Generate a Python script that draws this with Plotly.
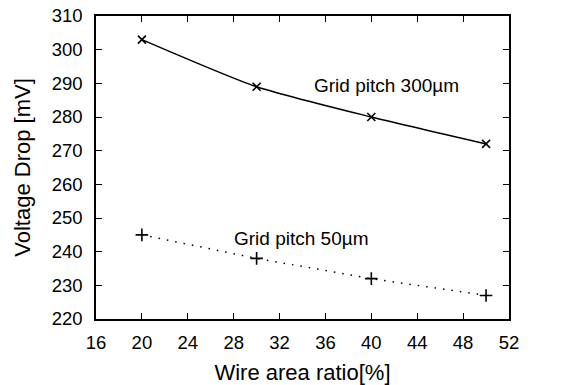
import plotly.graph_objects as go

ratio = [20, 30, 40, 50]
pitch300 = [303, 289, 280, 272]
pitch50 = [245, 238, 232, 227]
xticks = [16, 20, 24, 28, 32, 36, 40, 44, 48, 52]
yticks = [220, 230, 240, 250, 260, 270, 280, 290, 300, 310]

FONT = "Liberation Sans"
fig = go.Figure()
fig.add_trace(go.Scatter(x=ratio, y=pitch300, mode="lines+markers",
                         line=dict(color="black", width=1.5, shape="spline", smoothing=0.6),
                         marker=dict(symbol="x-thin", size=8, line=dict(color="black", width=1.6)),
                         showlegend=False))
fig.add_trace(go.Scatter(x=ratio, y=pitch50, mode="lines+markers",
                         line=dict(color="black", width=1.5, dash="1.5px,7px"),
                         marker=dict(symbol="cross-thin", size=9, line=dict(color="black", width=1.6)),
                         showlegend=False))
fig.add_annotation(x=41.3, y=289.5, text="Grid pitch 300µm", showarrow=False,
                   font=dict(size=19, color="black", family=FONT))
fig.add_annotation(x=33.9, y=244, text="Grid pitch 50µm", showarrow=False,
                   font=dict(size=19, color="black", family=FONT))

axis_common = dict(showgrid=False, zeroline=False, showline=True, linecolor="black", linewidth=1.5,
                   mirror="ticks", ticks="inside", ticklen=6, tickcolor="black", tickwidth=1,
                   automargin=False,
                   tickfont=dict(size=18.5, color="black", family=FONT))
fig.update_xaxes(range=[16, 52], tickvals=xticks, ticklabelstandoff=6,
                 title=dict(text="Wire area ratio[%]", font=dict(size=22, color="black", family=FONT)),
                 **axis_common)
fig.update_yaxes(range=[220, 310], tickvals=yticks, ticklabelstandoff=8,
                 title=dict(text="Voltage Drop [mV]", font=dict(size=22, color="black", family=FONT)),
                 **axis_common)
fig.update_layout(width=564, height=385, margin=dict(l=96, r=55, t=16, b=66, autoexpand=False),
                  plot_bgcolor="white", paper_bgcolor="white")
fig.write_html("out.html")
